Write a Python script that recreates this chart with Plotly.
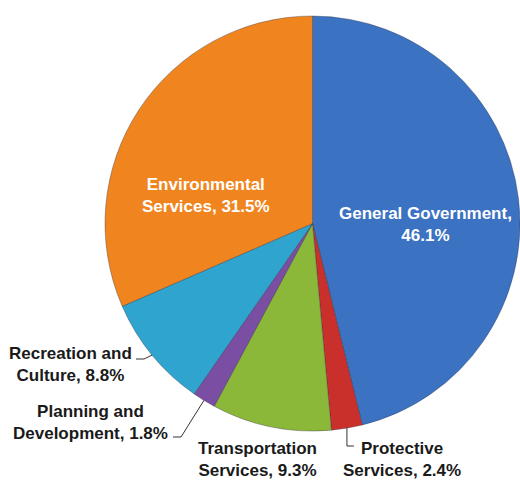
import math
import plotly.graph_objects as go

# Spending share by service area
categories = [
    "General Government",
    "Protective Services",
    "Transportation Services",
    "Planning and Development",
    "Recreation and Culture",
    "Environmental Services",
]
shares = [46.1, 2.4, 9.3, 1.8, 8.8, 31.5]
label_text = [
    "General Government,<br>46.1%",
    "Protective<br>Services, 2.4%",
    "Transportation<br>Services, 9.3%",
    "Planning and<br>Development, 1.8%",
    "Recreation and<br>Culture, 8.8%",
    "Environmental<br>Services, 31.5%",
]
colors = ["#3b72c2", "#c9302c", "#8cb83a", "#7a4fa3", "#2fa4cf", "#f0851f"]

W, H = 520, 481
# pie placement in pixels (left, right, top, bottom of the square domain)
PL, PR, PT, PB = 105, 520, 16, 431
CX, CY = (PL + PR) / 2, (PT + PB) / 2
R = min(PR - PL, PB - PT) / 2


def px(x):
    return x / W


def py(y):
    return 1 - y / H


fig = go.Figure(
    go.Pie(
        labels=categories,
        values=shares,
        sort=False,
        direction="clockwise",
        rotation=0,
        marker=dict(colors=colors, line=dict(color="rgba(40,40,60,0.35)", width=1)),
        textinfo="none",
        hoverinfo="label+percent",
        showlegend=False,
        domain=dict(x=[px(PL), px(PR)], y=[py(PB), py(PT)]),
    )
)

# mid-angle of each slice (degrees clockwise from 12 o'clock)
total = sum(shares)
mids = []
acc = 0.0
for v in shares:
    mids.append((acc + v / 2) / total * 360)
    acc += v


def edge_point(i, frac=1.0):
    a = math.radians(mids[i])
    return CX + R * frac * math.sin(a), CY - R * frac * math.cos(a)


# label placement: (x, y, color) in pixels
label_pos = [
    (425, 224, "white"),
    (402, 459, "#1a1a1a"),
    (257, 459, "#1a1a1a"),
    (90, 422, "#1a1a1a"),
    (70, 364, "#1a1a1a"),
    (206, 195, "white"),
]

for txt, (x, y, c) in zip(label_text, label_pos):
    fig.add_annotation(
        x=px(x), y=py(y), xref="paper", yref="paper",
        text=f"<b>{txt}</b>", showarrow=False, align="center",
        xanchor="center", yanchor="middle",
        font=dict(family="Liberation Sans, Arial, sans-serif", size=17, color=c),
    )

# leader lines for the small outside labels
line_style = dict(color="#333333", width=1)

# Protective Services: down from the slice edge, then right
ex, ey = edge_point(1)
fig.add_shape(type="path", xref="paper", yref="paper",
              path=f"M {px(ex)} {py(ey)} L {px(ex)} {py(446)} L {px(ex + 7)} {py(446)}",
              line=line_style)

# Planning and Development: from label end up to the slice edge
ex, ey = edge_point(3)
fig.add_shape(type="path", xref="paper", yref="paper",
              path=f"M {px(173)} {py(437)} L {px(181)} {py(437)} L {px(ex)} {py(ey)}",
              line=line_style)

# Recreation and Culture: from label end to the slice edge
ex, ey = edge_point(4)
fig.add_shape(type="path", xref="paper", yref="paper",
              path=f"M {px(136)} {py(359)} L {px(144)} {py(359)} L {px(ex)} {py(ey)}",
              line=line_style)

fig.update_layout(
    width=W, height=H,
    margin=dict(l=0, r=0, t=0, b=0),
    paper_bgcolor="white",
    plot_bgcolor="white",
)

fig.write_html("out.html")
